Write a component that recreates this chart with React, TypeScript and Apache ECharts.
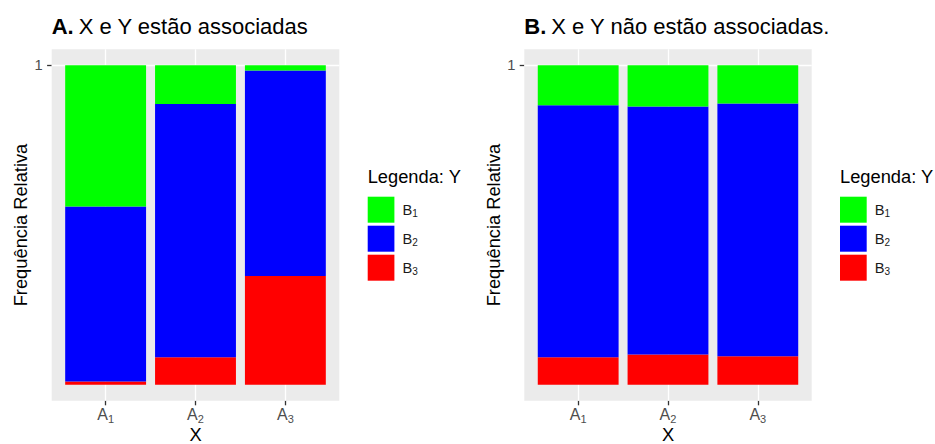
import React, { useEffect, useRef } from 'react';
import * as echarts from 'echarts';

// ---- data ----
const categories = ['A1', 'A2', 'A3'];
const xPositions = [1, 2, 3]; // positions of A1, A2, A3 on the panel scale
const seriesNames = ['B1', 'B2', 'B3'];
const yTicks = [1];

const panelA_B1 = [0.442, 0.121, 0.016];
const panelA_B2 = [0.548, 0.793, 0.644];
const panelA_B3 = [0.010, 0.086, 0.340];

const panelB_B1 = [0.125, 0.129, 0.120];
const panelB_B2 = [0.789, 0.776, 0.791];
const panelB_B3 = [0.086, 0.095, 0.089];

const titleA = 'X e Y estão associadas';
const titleB = 'X e Y não estão associadas.';
const yTitle = 'Frequência Relativa';
const xTitle = 'X';
const legendTitle = 'Legenda: Y';

const colors: Record<string, string> = { B1: '#00FF00', B2: '#0000FF', B3: '#FF0000' };

const FONT = 'Liberation Sans, Arial, sans-serif';
const BASE = 18.3;
const SMALL = 14.7;
const TICKCOL = '#4D4D4D';

const subRich = {
  m: { fontSize: 16, color: TICKCOL, fontFamily: FONT },
  s: { fontSize: 11, color: TICKCOL, fontFamily: FONT, padding: [9, 0, 0, 0] },
};
const legendRich = {
  m: { fontSize: SMALL, color: '#1A1A1A', fontFamily: FONT },
  s: { fontSize: 10, color: '#1A1A1A', fontFamily: FONT, padding: [8, 0, 0, 0] },
};

export default function App() {
  const ref = useRef<HTMLDivElement>(null);
  useEffect(() => {
    document.body.style.margin = '0';
    const chart = echarts.init(ref.current!, undefined, { renderer: 'svg' });

    const panels = [
      { left: 51.7, width: 287.6, legendLeft: 367.7, data: [panelA_B1, panelA_B2, panelA_B3], label: 'A.', title: titleA },
      { left: 524.3, width: 287.4, legendLeft: 840, data: [panelB_B1, panelB_B2, panelB_B3], label: 'B.', title: titleB },
    ];
    const TOP = 49.3;
    const HEIGHT = 351.4;

    const grid: any[] = [];
    const xAxis: any[] = [];
    const yAxis: any[] = [];
    const series: any[] = [];
    const legend: any[] = [];
    const title: any[] = [];

    panels.forEach((p, pi) => {
      const bg = 2 * pi;
      const fg = 2 * pi + 1;
      const unit = p.width / 3.2; // ggplot discrete expansion of 0.6 on each side
      grid.push({
        left: p.left, top: TOP, width: p.width, height: HEIGHT,
        show: true, backgroundColor: '#EBEBEB', borderWidth: 0, z: 0,
        outerBoundsMode: 'none',
      });
      grid.push({
        left: p.left + unit * 0.1, top: TOP, width: unit * 3, height: HEIGHT,
        show: false, outerBoundsMode: 'none',
      });
      xAxis.push({
        type: 'value', gridIndex: bg, min: 0.4, max: 3.6, position: 'bottom',
        axisLine: { show: false, onZero: false },
        splitLine: { show: false },
        axisTick: { show: true, inside: false, customValues: xPositions, length: 4.6, lineStyle: { color: '#333333', width: 1.3 } },
        axisLabel: {
          customValues: xPositions, margin: 4,
          formatter: (v: number) => `{m|A}{s|${categories[Math.round(v) - 1].slice(1)}}`,
          rich: subRich,
        },
        name: xTitle, nameLocation: 'middle', nameGap: 25, nameMoveOverlap: false,
        nameTextStyle: { fontSize: BASE, color: '#000', fontFamily: FONT },
      });
      yAxis.push({
        type: 'value', gridIndex: bg, min: -0.05, max: 1.05, position: 'left',
        axisLine: { show: false, onZero: false },
        splitLine: { show: false },
        axisTick: { show: true, customValues: yTicks, length: 4.6, lineStyle: { color: '#333333', width: 1.3 } },
        axisLabel: {
          customValues: yTicks, margin: 9,
          fontSize: SMALL, color: TICKCOL, fontFamily: FONT,
        },
        name: yTitle, nameLocation: 'middle', nameGap: 22, nameMoveOverlap: false,
        nameTextStyle: { fontSize: BASE, color: '#000', fontFamily: FONT },
      });
      xAxis.push({
        type: 'category', gridIndex: fg, data: categories, boundaryGap: true,
        show: false,
      });
      yAxis.push({
        type: 'value', gridIndex: fg, min: -0.05, max: 1.05, show: false,
      });
      // gridlines
      series.push({
        type: 'line', xAxisIndex: bg, yAxisIndex: bg, data: [], showSymbol: false, z: 1,
        markLine: {
          silent: true, symbol: 'none', z: 1, animation: false,
          label: { show: false },
          lineStyle: { color: '#FFFFFF', width: 1.3, type: 'solid' },
          data: [...xPositions.map((x) => ({ xAxis: x })), ...yTicks.map((y) => ({ yAxis: y }))],
        },
      });
      const order = [2, 1, 0]; // stack B3 at bottom, then B2, then B1
      order.forEach((si) => {
        series.push({
          type: 'bar', name: seriesNames[si], xAxisIndex: fg, yAxisIndex: fg,
          stack: 'p' + pi, barWidth: '90%',
          itemStyle: { color: colors[seriesNames[si]] },
          data: p.data[si],
          z: 3,
        });
      });
      legend.push({
        orient: 'vertical', left: p.legendLeft, top: 196.7, padding: 0,
        itemWidth: 26.7, itemHeight: 26, itemGap: 3, icon: 'rect',
        data: seriesNames,
        selectedMode: false,
        formatter: (name: string) => `{m|B}{s|${name.slice(1)}}`,
        textStyle: { rich: legendRich, padding: [0, 0, 0, 3] },
      });
      title.push({
        left: p.left, top: 15,
        text: `{b|${p.label}} {n|${p.title}}`,
        textStyle: {
          rich: {
            b: { fontSize: 22, fontWeight: 'bold', color: '#000', fontFamily: FONT },
            n: { fontSize: 22, fontWeight: 'normal', color: '#000', fontFamily: FONT },
          },
        },
        padding: 0,
      });
      title.push({
        left: p.legendLeft, top: 167, padding: 0,
        text: legendTitle,
        textStyle: { fontSize: BASE, fontWeight: 'normal', color: '#000', fontFamily: FONT },
      });
    });

    chart.setOption({
      animation: false,
      backgroundColor: '#FFFFFF',
      textStyle: { fontFamily: FONT },
      title, grid, xAxis, yAxis, series, legend,
    });
    return () => chart.dispose();
  }, []);
  return <div ref={ref} style={{ width: 935, height: 444 }} />;
}
